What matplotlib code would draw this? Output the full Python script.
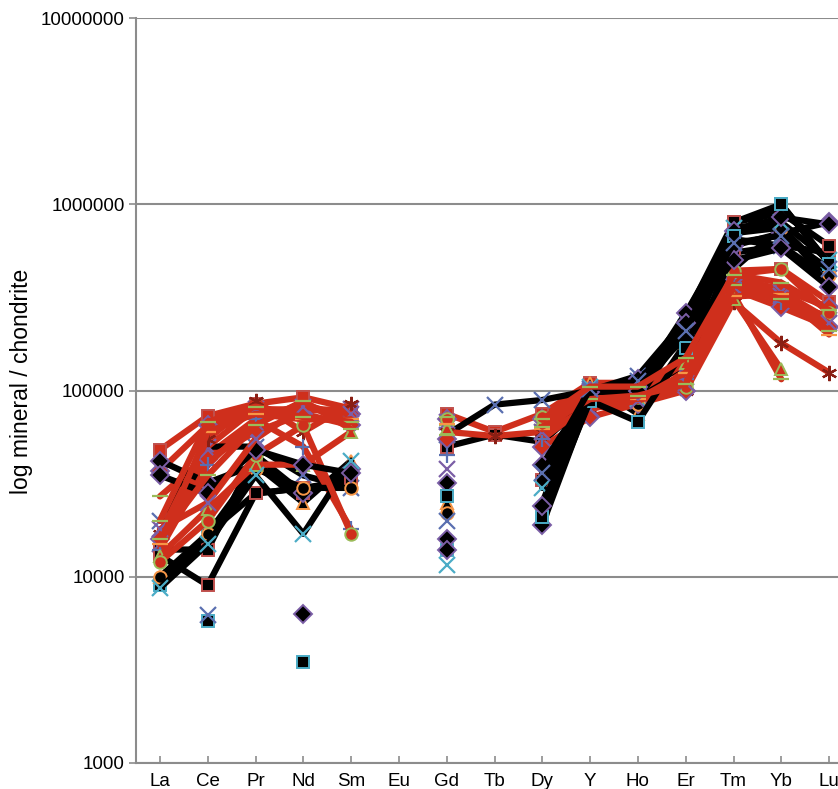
import numpy as np
import matplotlib
matplotlib.use("Agg")
import matplotlib.pyplot as plt
from matplotlib.ticker import FixedLocator, FuncFormatter, NullLocator

plt.rcParams['font.family'] = ['Liberation Sans', 'DejaVu Sans']

nan = np.nan
elements = ['La', 'Ce', 'Pr', 'Nd', 'Sm', 'Eu', 'Gd', 'Tb', 'Dy', 'Y',
            'Ho', 'Er', 'Tm', 'Yb', 'Lu']

# values in thousands (mineral / chondrite), nan = not measured
#          La    Ce    Pr   Nd   Sm   Eu   Gd   Tb   Dy   Y    Ho   Er   Tm   Yb    Lu
b1  = [9.0,  17,   28,  30,  32,  nan, 14,  nan, 20,  95,  110, 250, 800, 1000, 480]
b2  = [10,   15,   40,  25,  42,  nan, 25,  nan, 25,  110, 75,  180, 450, 750,  380]
b3  = [14,   14,   45,  28,  35,  nan, 50,  58,  53,  90,  95,  140, 550, 600,  550]
b4  = [20,   50,   50,  35,  30,  nan, 58,  84,  89,  100, 120, 240, 650, 600,  400]
b5  = [13,   9.0,  28,  30,  33,  nan, 27,  nan, 33,  85,  100, 200, 800, 900,  600]
b6  = [42,   32,   40,  28,  38,  nan, 32,  nan, 40,  100, 115, 190, 600, 700,  800]
b7  = [10,   17,   38,  30,  30,  nan, 22,  nan, 22,  100, 85,  160, 700, 750,  420]
b8  = [8.7,  15,   35,  17,  42,  nan, 11.5, nan, 30, 105, 90,  220, 750, 800,  500]
b9  = [35,   28,   48,  40,  36,  nan, 16,  nan, 19,  92,  105, 260, 720, 850,  780]
b10 = [nan,  5.8,  nan, 3.5, nan, nan, 27,  nan, 21,  88,  68,  170, 680, 1000, 480]
b11 = [nan,  nan,  nan, 6.3, nan, nan, 14,  nan, 24,  98,  100, 230, 500, 580,  360]
b12 = [nan,  6.2,  nan, nan, nan, nan, 20,  nan, 36,  102, 112, 210, 620, 680,  450]

r1  = [48,   73,   85,  92,  80,  nan, 75,  60,  75,  110, 110, 130, 420, 450,  300]
r2  = [37,   65,   78,  80,  75,  nan, 70,  nan, 70,  100, 95,  120, 400, 350,  280]
r3  = [27,   45,   70,  85,  70,  nan, 65,  nan, 65,  90,  100, 110, 330, 115,  nan]
r4  = [17,   55,   88,  60,  85,  nan, 60,  57,  60,  80,  90,  100, 300, 180,  125]
r5  = [16,   43,   60,  75,  65,  nan, 55,  nan, 50,  72,  85,  100, 350, 280,  220]
r6  = [14,   40,   70,  50,  18,  nan, 45,  nan, 55,  85,  95,  115, 380, 300,  250]
r7  = [13,   23,   40,  40,  60,  nan, 63,  nan, 68,  95,  100, 140, 310, 130,  nan]
r8  = [12,   20,   45,  65,  17,  nan, 70,  nan, 72,  88,  92,  105, 440, 450,  260]
r9  = [18,   25,   55,  82,  75,  nan, 38,  nan, 60,  80,  88,  110, 360, 320,  230]
r10 = [15,   60,   75,  70,  70,  nan, 66,  nan, 62,  92,  90,  125, 320, 330,  200]
r11 = [16,   35,   65,  88,  62,  nan, 72,  nan, 70,  105, 105, 150, 420, 380,  270]
r12 = [15,   50,   80,  78,  80,  nan, 68,  nan, 66,  98,  98,  118, 390, 340,  240]
r13 = [20,   68,   82,  72,  68,  nan, 58,  nan, 64,  90,  94,  108, 370, 310,  210]

BLK = 'black'
RED = '#cf2f1c'
aqua, orange, purple, redge, green, blue = '#4bacc6', '#f79646', '#7b5ea6', '#c0504d', '#9bbb59', '#5a6fb0'

series = [
    (b1, BLK, 's', aqua), (r1, RED, 's', redge), (b2, BLK, '^', orange),
    (r2, RED, 'D', purple), (b3, BLK, 's', redge), (r3, RED, '_', green),
    (b4, BLK, 'x', blue), (r12, RED, 'x', purple), (r4, RED, (6, 2, 0), '#8a1f14'),
    (b5, BLK, 's', redge), (r5, RED, 'D', purple), (b6, BLK, 'D', purple),
    (r6, RED, '+', blue), (b7, BLK, 'o', orange), (r7, RED, '^', green),
    (b8, BLK, 'x', aqua), (r8, RED, 'o', green), (b9, BLK, 'D', purple),
    (r9, RED, 'x', purple), (b10, BLK, 's', aqua), (r10, RED, '_', orange),
    (b11, BLK, 'D', purple), (r13, RED, '_', green), (b12, BLK, 'x', blue),
    (r11, RED, '_', green),
]

fig = plt.figure(figsize=(8.38, 7.89), dpi=100)
ax = fig.add_axes([0.1623, 0.033, 0.8556, 0.944])
x = np.arange(len(elements))

for vals, col, mk, ec in series:
    y = np.array(vals, dtype=float) * 1000
    if mk in ('x', '+', '_') or isinstance(mk, tuple):
        ax.plot(x, y, color=col, lw=4.5, marker=mk, ms=11, mec=ec, mew=1.6,
                solid_capstyle='round')
    else:
        ax.plot(x, y, color=col, lw=4.5, marker=mk, ms=9, mfc=col, mec=ec,
                mew=1.4, solid_capstyle='round')

ax.set_yscale('log')
ax.set_ylim(1000, 10000000)
ax.set_xlim(-0.5, 14.5)
ax.yaxis.set_major_locator(FixedLocator([1e3, 1e4, 1e5, 1e6, 1e7]))
ax.yaxis.set_minor_locator(NullLocator())
ax.yaxis.set_major_formatter(FuncFormatter(lambda v, p: '%d' % round(v)))
ax.set_xticks(x)
ax.set_xticklabels(elements)

ax.grid(axis='y', color='#8c8c8c', lw=1.5)
ax.set_axisbelow(True)
for s in ['top', 'right']:
    ax.spines[s].set_visible(False)
for s in ['left', 'bottom']:
    ax.spines[s].set_color('#8c8c8c')
    ax.spines[s].set_linewidth(1.5)
ax.tick_params(axis='x', direction='in', length=5, width=1.2, color='#8c8c8c',
               labelsize=13.5, pad=7)
ax.tick_params(axis='y', direction='out', length=5, width=1.2, color='#8c8c8c',
               labelsize=13.5, pad=3)
ax.set_ylabel('log mineral / chondrite', fontsize=16.5)
ax.yaxis.set_label_coords(-0.1437, 0.512)

fig.savefig('out.png', dpi=100)
